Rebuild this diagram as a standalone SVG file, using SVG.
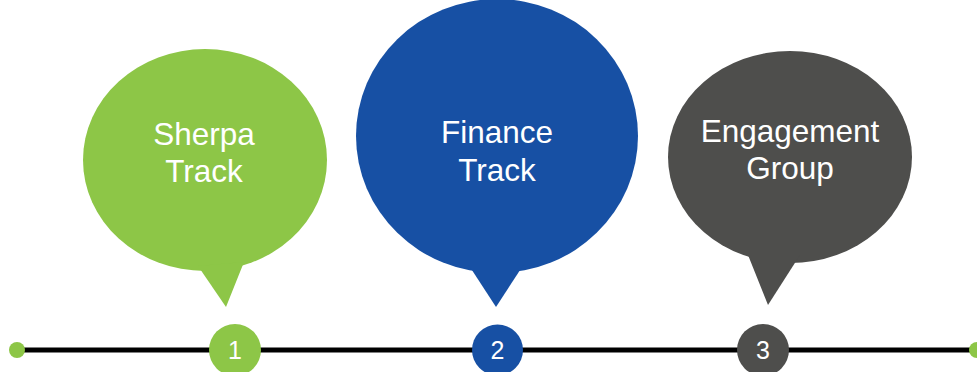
<svg xmlns="http://www.w3.org/2000/svg" width="977" height="372" viewBox="0 0 977 372">
<style>
.lbl{font-family:"Liberation Sans",Arial,sans-serif;font-size:31.5px;fill:#fff;text-anchor:middle}
.num{font-family:"Liberation Sans",Arial,sans-serif;font-size:25px;fill:#fff;text-anchor:middle}
.g{fill:#8DC647}.b{fill:#1750A4}.d{fill:#4E4E4C}
</style>
<rect width="977" height="372" fill="#fff"/>
<g id="connectors">
<line x1="17" y1="350" x2="977" y2="350" stroke="#000" stroke-width="5"/>
</g>
<g id="start-dot"><circle class="g" cx="17" cy="350" r="8"/></g>
<g id="end-dot"><circle class="g" cx="977" cy="350" r="8"/></g>
<g id="bubble-sherpa">
<ellipse class="g" cx="205" cy="160" rx="122" ry="111"/>
<polygon class="g" points="198,266 244,262 226,307"/>
<text class="lbl" x="204" y="145">Sherpa</text>
<text class="lbl" x="204" y="182">Track</text>
</g>
<g id="bubble-finance">
<ellipse class="b" cx="497" cy="136" rx="141" ry="137"/>
<polygon class="b" points="468,264 524,264 496,307"/>
<text class="lbl" x="497" y="143">Finance</text>
<text class="lbl" x="497" y="181">Track</text>
</g>
<g id="bubble-engagement">
<ellipse class="d" cx="790" cy="157" rx="122" ry="106"/>
<polygon class="d" points="748,255 800,255 768,305"/>
<text class="lbl" x="790" y="142">Engagement</text>
<text class="lbl" x="790" y="179">Group</text>
</g>
<g id="step-1"><circle class="g" cx="235" cy="350" r="26"/><text class="num" x="235" y="359">1</text></g>
<g id="step-2"><circle class="b" cx="497.5" cy="350" r="25.5"/><text class="num" x="497.5" y="359">2</text></g>
<g id="step-3"><circle class="d" cx="763" cy="350" r="26"/><text class="num" x="763" y="359">3</text></g>
</svg>
